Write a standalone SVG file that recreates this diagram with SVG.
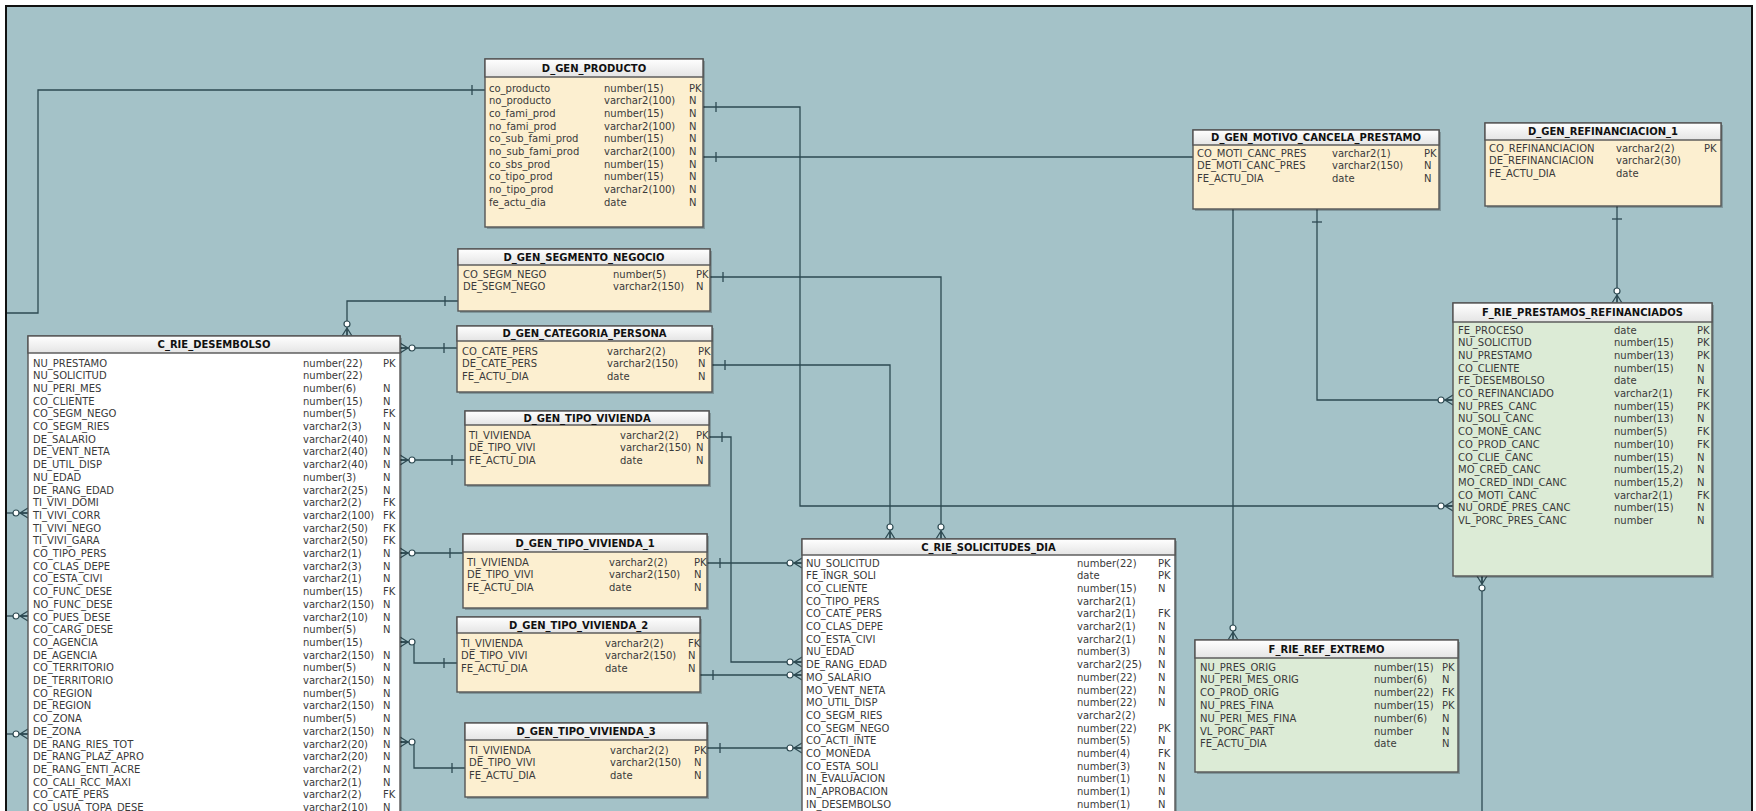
<svg xmlns="http://www.w3.org/2000/svg" width="1756" height="811" viewBox="0 0 1756 811">
<style>
.frame{fill:#a4c2c8;stroke:#111;stroke-width:2}
.sh{fill:#000;fill-opacity:0.22}
.box{stroke:#555;stroke-width:1.4}
.cream{fill:#fcefd0}
.green{fill:#dcebd6}
.white{fill:#ffffff}
.hdr{fill:url(#hg);stroke:#555;stroke-width:1.4}
.t{font-family:'DejaVu Sans',Verdana,sans-serif;font-size:10px;fill:#3a3a3a}
.h{font-family:'DejaVu Sans',Verdana,sans-serif;font-size:10px;font-weight:bold;fill:#111;text-anchor:middle}
.c{fill:none;stroke:#2d4a52;stroke-width:1.3}
.m{fill:none;stroke:#2d4a52;stroke-width:1.3}
.mc{fill:#fff;stroke:#2d4a52;stroke-width:1.2}
</style>
<defs>
<linearGradient id="hg" x1="0" y1="0" x2="0" y2="1">
<stop offset="0" stop-color="#ffffff"/>
<stop offset="1" stop-color="#e4e4e4"/>
</linearGradient>
<marker id="one" markerUnits="userSpaceOnUse" viewBox="-20 -8 24 16" refX="0" refY="0" markerWidth="24" markerHeight="16" orient="auto-start-reverse">
<path class="m" d="M-13,-5 V5"/>
</marker>
<marker id="crow" markerUnits="userSpaceOnUse" viewBox="-20 -8 24 16" refX="0" refY="0" markerWidth="24" markerHeight="16" orient="auto-start-reverse">
<path class="m" d="M-8,0 L0,-5 M-8,0 L0,0 M-8,0 L0,5"/>
<circle class="mc" cx="-12" cy="0" r="3"/>
</marker>
</defs>
<rect x="0" y="0" width="1756" height="811" fill="#ffffff"/>
<rect class="frame" x="6" y="6" width="1746" height="830"/>

<g id="connectors">
<path class="c" d="M485,90 H38 V313 H7" marker-start="url(#one)"/>
<path class="c" d="M458,301 H347 V336" marker-start="url(#one)" marker-end="url(#crow)"/>
<path class="c" d="M457,348 H400" marker-start="url(#one)" marker-end="url(#crow)"/>
<path class="c" d="M465,460 H400" marker-start="url(#one)" marker-end="url(#crow)"/>
<path class="c" d="M463,553 H400" marker-start="url(#one)" marker-end="url(#crow)"/>
<path class="c" d="M457,663 H414 V642 H400" marker-start="url(#one)" marker-end="url(#crow)"/>
<path class="c" d="M465,768 H414 V742 H400" marker-start="url(#one)" marker-end="url(#crow)"/>
<path class="c" d="M7,513 H28" marker-end="url(#crow)"/>
<path class="c" d="M7,616 H28" marker-end="url(#crow)"/>
<path class="c" d="M7,734 H28" marker-end="url(#crow)"/>
<path class="c" d="M710,277 H941 V539" marker-start="url(#one)" marker-end="url(#crow)"/>
<path class="c" d="M712,365 H890 V539" marker-start="url(#one)" marker-end="url(#crow)"/>
<path class="c" d="M703,107 H800 V506 H1453" marker-start="url(#one)" marker-end="url(#crow)"/>
<path class="c" d="M703,157 H1233 V640" marker-start="url(#one)" marker-end="url(#crow)"/>
<path class="c" d="M1317,209 V400 H1453" marker-start="url(#one)" marker-end="url(#crow)"/>
<path class="c" d="M1617,206 V303" marker-start="url(#one)" marker-end="url(#crow)"/>
<path class="c" d="M709,437 H731 V662 H802" marker-start="url(#one)" marker-end="url(#crow)"/>
<path class="c" d="M707,563 H802" marker-start="url(#one)" marker-end="url(#crow)"/>
<path class="c" d="M700,675 H802" marker-start="url(#one)" marker-end="url(#crow)"/>
<path class="c" d="M707,748 H802" marker-start="url(#one)" marker-end="url(#crow)"/>
<path class="c" d="M1482,811 V576" marker-end="url(#crow)"/>
</g>

<g id="c_rie_desembolso">
<rect class="sh" x="30" y="338" width="372" height="500"/>
<rect class="box white" x="28" y="336" width="372" height="500"/>
<rect class="hdr" x="28" y="336" width="372" height="17"/>
<text class="h" x="214" y="348">C_RIE_DESEMBOLSO</text>
<text class="t">
<tspan x="33" y="366.5">NU_PRESTAMO</tspan><tspan x="33" y="379.2">NU_SOLICITUD</tspan><tspan x="33" y="391.9">NU_PERI_MES</tspan><tspan x="33" y="404.6">CO_CLIENTE</tspan><tspan x="33" y="417.3">CO_SEGM_NEGO</tspan><tspan x="33" y="430">CO_SEGM_RIES</tspan><tspan x="33" y="442.7">DE_SALARIO</tspan><tspan x="33" y="455.4">DE_VENT_NETA</tspan><tspan x="33" y="468.1">DE_UTIL_DISP</tspan><tspan x="33" y="480.8">NU_EDAD</tspan><tspan x="33" y="493.5">DE_RANG_EDAD</tspan><tspan x="33" y="506.2">TI_VIVI_DOMI</tspan><tspan x="33" y="518.9">TI_VIVI_CORR</tspan><tspan x="33" y="531.6">TI_VIVI_NEGO</tspan><tspan x="33" y="544.3">TI_VIVI_GARA</tspan><tspan x="33" y="557">CO_TIPO_PERS</tspan><tspan x="33" y="569.7">CO_CLAS_DEPE</tspan><tspan x="33" y="582.4">CO_ESTA_CIVI</tspan><tspan x="33" y="595.1">CO_FUNC_DESE</tspan><tspan x="33" y="607.8">NO_FUNC_DESE</tspan><tspan x="33" y="620.5">CO_PUES_DESE</tspan><tspan x="33" y="633.2">CO_CARG_DESE</tspan><tspan x="33" y="645.9">CO_AGENCIA</tspan><tspan x="33" y="658.6">DE_AGENCIA</tspan><tspan x="33" y="671.3">CO_TERRITORIO</tspan><tspan x="33" y="684">DE_TERRITORIO</tspan><tspan x="33" y="696.7">CO_REGION</tspan><tspan x="33" y="709.4">DE_REGION</tspan><tspan x="33" y="722.1">CO_ZONA</tspan><tspan x="33" y="734.8">DE_ZONA</tspan><tspan x="33" y="747.5">DE_RANG_RIES_TOT</tspan><tspan x="33" y="760.2">DE_RANG_PLAZ_APRO</tspan><tspan x="33" y="772.9">DE_RANG_ENTI_ACRE</tspan><tspan x="33" y="785.6">CO_CALI_RCC_MAXI</tspan><tspan x="33" y="798.3">CO_CATE_PERS</tspan><tspan x="33" y="811">CO_USUA_TOPA_DESE</tspan>
</text>
<text class="t">
<tspan x="303" y="366.5">number(22)</tspan><tspan x="303" y="379.2">number(22)</tspan><tspan x="303" y="391.9">number(6)</tspan><tspan x="303" y="404.6">number(15)</tspan><tspan x="303" y="417.3">number(5)</tspan><tspan x="303" y="430">varchar2(3)</tspan><tspan x="303" y="442.7">varchar2(40)</tspan><tspan x="303" y="455.4">varchar2(40)</tspan><tspan x="303" y="468.1">varchar2(40)</tspan><tspan x="303" y="480.8">number(3)</tspan><tspan x="303" y="493.5">varchar2(25)</tspan><tspan x="303" y="506.2">varchar2(2)</tspan><tspan x="303" y="518.9">varchar2(100)</tspan><tspan x="303" y="531.6">varchar2(50)</tspan><tspan x="303" y="544.3">varchar2(50)</tspan><tspan x="303" y="557">varchar2(1)</tspan><tspan x="303" y="569.7">varchar2(3)</tspan><tspan x="303" y="582.4">varchar2(1)</tspan><tspan x="303" y="595.1">number(15)</tspan><tspan x="303" y="607.8">varchar2(150)</tspan><tspan x="303" y="620.5">varchar2(10)</tspan><tspan x="303" y="633.2">number(5)</tspan><tspan x="303" y="645.9">number(15)</tspan><tspan x="303" y="658.6">varchar2(150)</tspan><tspan x="303" y="671.3">number(5)</tspan><tspan x="303" y="684">varchar2(150)</tspan><tspan x="303" y="696.7">number(5)</tspan><tspan x="303" y="709.4">varchar2(150)</tspan><tspan x="303" y="722.1">number(5)</tspan><tspan x="303" y="734.8">varchar2(150)</tspan><tspan x="303" y="747.5">varchar2(20)</tspan><tspan x="303" y="760.2">varchar2(20)</tspan><tspan x="303" y="772.9">varchar2(2)</tspan><tspan x="303" y="785.6">varchar2(1)</tspan><tspan x="303" y="798.3">varchar2(2)</tspan><tspan x="303" y="811">varchar2(10)</tspan>
</text>
<text class="t">
<tspan x="383" y="366.5">PK</tspan><tspan x="383" y="391.9">N</tspan><tspan x="383" y="404.6">N</tspan><tspan x="383" y="417.3">FK</tspan><tspan x="383" y="430">N</tspan><tspan x="383" y="442.7">N</tspan><tspan x="383" y="455.4">N</tspan><tspan x="383" y="468.1">N</tspan><tspan x="383" y="480.8">N</tspan><tspan x="383" y="493.5">N</tspan><tspan x="383" y="506.2">FK</tspan><tspan x="383" y="518.9">FK</tspan><tspan x="383" y="531.6">FK</tspan><tspan x="383" y="544.3">FK</tspan><tspan x="383" y="557">N</tspan><tspan x="383" y="569.7">N</tspan><tspan x="383" y="582.4">N</tspan><tspan x="383" y="595.1">FK</tspan><tspan x="383" y="607.8">N</tspan><tspan x="383" y="620.5">N</tspan><tspan x="383" y="633.2">N</tspan><tspan x="383" y="658.6">N</tspan><tspan x="383" y="671.3">N</tspan><tspan x="383" y="684">N</tspan><tspan x="383" y="696.7">N</tspan><tspan x="383" y="709.4">N</tspan><tspan x="383" y="722.1">N</tspan><tspan x="383" y="734.8">N</tspan><tspan x="383" y="747.5">N</tspan><tspan x="383" y="760.2">N</tspan><tspan x="383" y="772.9">N</tspan><tspan x="383" y="785.6">N</tspan><tspan x="383" y="798.3">FK</tspan><tspan x="383" y="811">N</tspan>
</text>
</g>

<g id="d_gen_producto">
<rect class="sh" x="487" y="61" width="218" height="168"/>
<rect class="box cream" x="485" y="59" width="218" height="168"/>
<rect class="hdr" x="485" y="59" width="218" height="18"/>
<text class="h" x="594" y="71.5">D_GEN_PRODUCTO</text>
<text class="t">
<tspan x="489" y="91.5">co_producto</tspan><tspan x="489" y="104.2">no_producto</tspan><tspan x="489" y="116.9">co_fami_prod</tspan><tspan x="489" y="129.6">no_fami_prod</tspan><tspan x="489" y="142.3">co_sub_fami_prod</tspan><tspan x="489" y="155">no_sub_fami_prod</tspan><tspan x="489" y="167.7">co_sbs_prod</tspan><tspan x="489" y="180.4">co_tipo_prod</tspan><tspan x="489" y="193.1">no_tipo_prod</tspan><tspan x="489" y="205.8">fe_actu_dia</tspan>
</text>
<text class="t">
<tspan x="604" y="91.5">number(15)</tspan><tspan x="604" y="104.2">varchar2(100)</tspan><tspan x="604" y="116.9">number(15)</tspan><tspan x="604" y="129.6">varchar2(100)</tspan><tspan x="604" y="142.3">number(15)</tspan><tspan x="604" y="155">varchar2(100)</tspan><tspan x="604" y="167.7">number(15)</tspan><tspan x="604" y="180.4">number(15)</tspan><tspan x="604" y="193.1">varchar2(100)</tspan><tspan x="604" y="205.8">date</tspan>
</text>
<text class="t">
<tspan x="689" y="91.5">PK</tspan><tspan x="689" y="104.2">N</tspan><tspan x="689" y="116.9">N</tspan><tspan x="689" y="129.6">N</tspan><tspan x="689" y="142.3">N</tspan><tspan x="689" y="155">N</tspan><tspan x="689" y="167.7">N</tspan><tspan x="689" y="180.4">N</tspan><tspan x="689" y="193.1">N</tspan><tspan x="689" y="205.8">N</tspan>
</text>
</g>

<g id="d_gen_segmento_negocio">
<rect class="sh" x="460" y="251" width="252" height="62"/>
<rect class="box cream" x="458" y="249" width="252" height="62"/>
<rect class="hdr" x="458" y="249" width="252" height="16"/>
<text class="h" x="584" y="260.5">D_GEN_SEGMENTO_NEGOCIO</text>
<text class="t"><tspan x="463" y="277.5">CO_SEGM_NEGO</tspan><tspan x="463" y="290.2">DE_SEGM_NEGO</tspan></text>
<text class="t"><tspan x="613" y="277.5">number(5)</tspan><tspan x="613" y="290.2">varchar2(150)</tspan></text>
<text class="t"><tspan x="696" y="277.5">PK</tspan><tspan x="696" y="290.2">N</tspan></text>
</g>

<g id="d_gen_categoria_persona">
<rect class="sh" x="459" y="328" width="255" height="66"/>
<rect class="box cream" x="457" y="326" width="255" height="66"/>
<rect class="hdr" x="457" y="326" width="255" height="15"/>
<text class="h" x="584.5" y="337">D_GEN_CATEGORIA_PERSONA</text>
<text class="t"><tspan x="462" y="354.5">CO_CATE_PERS</tspan><tspan x="462" y="367.2">DE_CATE_PERS</tspan><tspan x="462" y="379.9">FE_ACTU_DIA</tspan></text>
<text class="t"><tspan x="607" y="354.5">varchar2(2)</tspan><tspan x="607" y="367.2">varchar2(150)</tspan><tspan x="607" y="379.9">date</tspan></text>
<text class="t"><tspan x="698" y="354.5">PK</tspan><tspan x="698" y="367.2">N</tspan><tspan x="698" y="379.9">N</tspan></text>
</g>

<g id="d_gen_tipo_vivienda">
<rect class="sh" x="467" y="413" width="244" height="74"/>
<rect class="box cream" x="465" y="411" width="244" height="74"/>
<rect class="hdr" x="465" y="411" width="244" height="14"/>
<text class="h" x="587" y="421.5">D_GEN_TIPO_VIVIENDA</text>
<text class="t"><tspan x="469" y="438.5">TI_VIVIENDA</tspan><tspan x="469" y="451.2">DE_TIPO_VIVI</tspan><tspan x="469" y="463.9">FE_ACTU_DIA</tspan></text>
<text class="t"><tspan x="620" y="438.5">varchar2(2)</tspan><tspan x="620" y="451.2">varchar2(150)</tspan><tspan x="620" y="463.9">date</tspan></text>
<text class="t"><tspan x="696" y="438.5">PK</tspan><tspan x="696" y="451.2">N</tspan><tspan x="696" y="463.9">N</tspan></text>
</g>

<g id="d_gen_tipo_vivienda_1">
<rect class="sh" x="465" y="536" width="244" height="74"/>
<rect class="box cream" x="463" y="534" width="244" height="74"/>
<rect class="hdr" x="463" y="534" width="244" height="18"/>
<text class="h" x="585" y="546.5">D_GEN_TIPO_VIVIENDA_1</text>
<text class="t"><tspan x="467" y="565.5">TI_VIVIENDA</tspan><tspan x="467" y="578.2">DE_TIPO_VIVI</tspan><tspan x="467" y="590.9">FE_ACTU_DIA</tspan></text>
<text class="t"><tspan x="609" y="565.5">varchar2(2)</tspan><tspan x="609" y="578.2">varchar2(150)</tspan><tspan x="609" y="590.9">date</tspan></text>
<text class="t"><tspan x="694" y="565.5">PK</tspan><tspan x="694" y="578.2">N</tspan><tspan x="694" y="590.9">N</tspan></text>
</g>

<g id="d_gen_tipo_vivienda_2">
<rect class="sh" x="459" y="619" width="243" height="75"/>
<rect class="box cream" x="457" y="617" width="243" height="75"/>
<rect class="hdr" x="457" y="617" width="243" height="16"/>
<text class="h" x="578.5" y="628.5">D_GEN_TIPO_VIVIENDA_2</text>
<text class="t"><tspan x="461" y="646.5">TI_VIVIENDA</tspan><tspan x="461" y="659.2">DE_TIPO_VIVI</tspan><tspan x="461" y="671.9">FE_ACTU_DIA</tspan></text>
<text class="t"><tspan x="605" y="646.5">varchar2(2)</tspan><tspan x="605" y="659.2">varchar2(150)</tspan><tspan x="605" y="671.9">date</tspan></text>
<text class="t"><tspan x="688" y="646.5">FK</tspan><tspan x="688" y="659.2">N</tspan><tspan x="688" y="671.9">N</tspan></text>
</g>

<g id="d_gen_tipo_vivienda_3">
<rect class="sh" x="467" y="725" width="242" height="74"/>
<rect class="box cream" x="465" y="723" width="242" height="74"/>
<rect class="hdr" x="465" y="723" width="242" height="17"/>
<text class="h" x="586" y="735">D_GEN_TIPO_VIVIENDA_3</text>
<text class="t"><tspan x="469" y="753.5">TI_VIVIENDA</tspan><tspan x="469" y="766.2">DE_TIPO_VIVI</tspan><tspan x="469" y="778.9">FE_ACTU_DIA</tspan></text>
<text class="t"><tspan x="610" y="753.5">varchar2(2)</tspan><tspan x="610" y="766.2">varchar2(150)</tspan><tspan x="610" y="778.9">date</tspan></text>
<text class="t"><tspan x="694" y="753.5">PK</tspan><tspan x="694" y="766.2">N</tspan><tspan x="694" y="778.9">N</tspan></text>
</g>

<g id="c_rie_solicitudes_dia">
<rect class="sh" x="804" y="541" width="373" height="300"/>
<rect class="box white" x="802" y="539" width="373" height="300"/>
<rect class="hdr" x="802" y="539" width="373" height="16"/>
<text class="h" x="988.5" y="550.5">C_RIE_SOLICITUDES_DIA</text>
<text class="t">
<tspan x="806" y="566.5">NU_SOLICITUD</tspan><tspan x="806" y="579.2">FE_INGR_SOLI</tspan><tspan x="806" y="591.9">CO_CLIENTE</tspan><tspan x="806" y="604.6">CO_TIPO_PERS</tspan><tspan x="806" y="617.3">CO_CATE_PERS</tspan><tspan x="806" y="630">CO_CLAS_DEPE</tspan><tspan x="806" y="642.7">CO_ESTA_CIVI</tspan><tspan x="806" y="655.4">NU_EDAD</tspan><tspan x="806" y="668.1">DE_RANG_EDAD</tspan><tspan x="806" y="680.8">MO_SALARIO</tspan><tspan x="806" y="693.5">MO_VENT_NETA</tspan><tspan x="806" y="706.2">MO_UTIL_DISP</tspan><tspan x="806" y="718.9">CO_SEGM_RIES</tspan><tspan x="806" y="731.6">CO_SEGM_NEGO</tspan><tspan x="806" y="744.3">CO_ACTI_INTE</tspan><tspan x="806" y="757">CO_MONEDA</tspan><tspan x="806" y="769.7">CO_ESTA_SOLI</tspan><tspan x="806" y="782.4">IN_EVALUACION</tspan><tspan x="806" y="795.1">IN_APROBACION</tspan><tspan x="806" y="807.8">IN_DESEMBOLSO</tspan>
</text>
<text class="t">
<tspan x="1077" y="566.5">number(22)</tspan><tspan x="1077" y="579.2">date</tspan><tspan x="1077" y="591.9">number(15)</tspan><tspan x="1077" y="604.6">varchar2(1)</tspan><tspan x="1077" y="617.3">varchar2(1)</tspan><tspan x="1077" y="630">varchar2(1)</tspan><tspan x="1077" y="642.7">varchar2(1)</tspan><tspan x="1077" y="655.4">number(3)</tspan><tspan x="1077" y="668.1">varchar2(25)</tspan><tspan x="1077" y="680.8">number(22)</tspan><tspan x="1077" y="693.5">number(22)</tspan><tspan x="1077" y="706.2">number(22)</tspan><tspan x="1077" y="718.9">varchar2(2)</tspan><tspan x="1077" y="731.6">number(22)</tspan><tspan x="1077" y="744.3">number(5)</tspan><tspan x="1077" y="757">number(4)</tspan><tspan x="1077" y="769.7">number(3)</tspan><tspan x="1077" y="782.4">number(1)</tspan><tspan x="1077" y="795.1">number(1)</tspan><tspan x="1077" y="807.8">number(1)</tspan>
</text>
<text class="t">
<tspan x="1158" y="566.5">PK</tspan><tspan x="1158" y="579.2">PK</tspan><tspan x="1158" y="591.9">N</tspan><tspan x="1158" y="617.3">FK</tspan><tspan x="1158" y="630">N</tspan><tspan x="1158" y="642.7">N</tspan><tspan x="1158" y="655.4">N</tspan><tspan x="1158" y="668.1">N</tspan><tspan x="1158" y="680.8">N</tspan><tspan x="1158" y="693.5">N</tspan><tspan x="1158" y="706.2">N</tspan><tspan x="1158" y="731.6">PK</tspan><tspan x="1158" y="744.3">N</tspan><tspan x="1158" y="757">FK</tspan><tspan x="1158" y="769.7">N</tspan><tspan x="1158" y="782.4">N</tspan><tspan x="1158" y="795.1">N</tspan><tspan x="1158" y="807.8">N</tspan>
</text>
</g>

<g id="d_gen_motivo_cancela_prestamo">
<rect class="sh" x="1195" y="132" width="246" height="79"/>
<rect class="box cream" x="1193" y="130" width="246" height="79"/>
<rect class="hdr" x="1193" y="130" width="246" height="15"/>
<text class="h" x="1316" y="141">D_GEN_MOTIVO_CANCELA_PRESTAMO</text>
<text class="t"><tspan x="1197" y="156.5">CO_MOTI_CANC_PRES</tspan><tspan x="1197" y="169.2">DE_MOTI_CANC_PRES</tspan><tspan x="1197" y="181.9">FE_ACTU_DIA</tspan></text>
<text class="t"><tspan x="1332" y="156.5">varchar2(1)</tspan><tspan x="1332" y="169.2">varchar2(150)</tspan><tspan x="1332" y="181.9">date</tspan></text>
<text class="t"><tspan x="1424" y="156.5">PK</tspan><tspan x="1424" y="169.2">N</tspan><tspan x="1424" y="181.9">N</tspan></text>
</g>

<g id="d_gen_refinanciacion_1">
<rect class="sh" x="1487" y="125" width="236" height="83"/>
<rect class="box cream" x="1485" y="123" width="236" height="83"/>
<rect class="hdr" x="1485" y="123" width="236" height="17"/>
<text class="h" x="1603" y="135">D_GEN_REFINANCIACION_1</text>
<text class="t"><tspan x="1489" y="151.5">CO_REFINANCIACION</tspan><tspan x="1489" y="164.2">DE_REFINANCIACION</tspan><tspan x="1489" y="176.9">FE_ACTU_DIA</tspan></text>
<text class="t"><tspan x="1616" y="151.5">varchar2(2)</tspan><tspan x="1616" y="164.2">varchar2(30)</tspan><tspan x="1616" y="176.9">date</tspan></text>
<text class="t"><tspan x="1704" y="151.5">PK</tspan></text>
</g>

<g id="f_rie_prestamos_refinanciados">
<rect class="sh" x="1455" y="305" width="259" height="273"/>
<rect class="box green" x="1453" y="303" width="259" height="273"/>
<rect class="hdr" x="1453" y="303" width="259" height="19"/>
<text class="h" x="1582.5" y="316">F_RIE_PRESTAMOS_REFINANCIADOS</text>
<text class="t">
<tspan x="1458" y="333.5">FE_PROCESO</tspan><tspan x="1458" y="346.2">NU_SOLICITUD</tspan><tspan x="1458" y="358.9">NU_PRESTAMO</tspan><tspan x="1458" y="371.6">CO_CLIENTE</tspan><tspan x="1458" y="384.3">FE_DESEMBOLSO</tspan><tspan x="1458" y="397">CO_REFINANCIADO</tspan><tspan x="1458" y="409.7">NU_PRES_CANC</tspan><tspan x="1458" y="422.4">NU_SOLI_CANC</tspan><tspan x="1458" y="435.1">CO_MONE_CANC</tspan><tspan x="1458" y="447.8">CO_PROD_CANC</tspan><tspan x="1458" y="460.5">CO_CLIE_CANC</tspan><tspan x="1458" y="473.2">MO_CRED_CANC</tspan><tspan x="1458" y="485.9">MO_CRED_INDI_CANC</tspan><tspan x="1458" y="498.6">CO_MOTI_CANC</tspan><tspan x="1458" y="511.3">NU_ORDE_PRES_CANC</tspan><tspan x="1458" y="524">VL_PORC_PRES_CANC</tspan>
</text>
<text class="t">
<tspan x="1614" y="333.5">date</tspan><tspan x="1614" y="346.2">number(15)</tspan><tspan x="1614" y="358.9">number(13)</tspan><tspan x="1614" y="371.6">number(15)</tspan><tspan x="1614" y="384.3">date</tspan><tspan x="1614" y="397">varchar2(1)</tspan><tspan x="1614" y="409.7">number(15)</tspan><tspan x="1614" y="422.4">number(13)</tspan><tspan x="1614" y="435.1">number(5)</tspan><tspan x="1614" y="447.8">number(10)</tspan><tspan x="1614" y="460.5">number(15)</tspan><tspan x="1614" y="473.2">number(15,2)</tspan><tspan x="1614" y="485.9">number(15,2)</tspan><tspan x="1614" y="498.6">varchar2(1)</tspan><tspan x="1614" y="511.3">number(15)</tspan><tspan x="1614" y="524">number</tspan>
</text>
<text class="t">
<tspan x="1697" y="333.5">PK</tspan><tspan x="1697" y="346.2">PK</tspan><tspan x="1697" y="358.9">PK</tspan><tspan x="1697" y="371.6">N</tspan><tspan x="1697" y="384.3">N</tspan><tspan x="1697" y="397">FK</tspan><tspan x="1697" y="409.7">PK</tspan><tspan x="1697" y="422.4">N</tspan><tspan x="1697" y="435.1">FK</tspan><tspan x="1697" y="447.8">FK</tspan><tspan x="1697" y="460.5">N</tspan><tspan x="1697" y="473.2">N</tspan><tspan x="1697" y="485.9">N</tspan><tspan x="1697" y="498.6">FK</tspan><tspan x="1697" y="511.3">N</tspan><tspan x="1697" y="524">N</tspan>
</text>
</g>

<g id="f_rie_ref_extremo">
<rect class="sh" x="1197" y="642" width="263" height="132"/>
<rect class="box green" x="1195" y="640" width="263" height="132"/>
<rect class="hdr" x="1195" y="640" width="263" height="18"/>
<text class="h" x="1326.5" y="652.5">F_RIE_REF_EXTREMO</text>
<text class="t"><tspan x="1200" y="670.5">NU_PRES_ORIG</tspan><tspan x="1200" y="683.3">NU_PERI_MES_ORIG</tspan><tspan x="1200" y="696.1">CO_PROD_ORIG</tspan><tspan x="1200" y="708.9">NU_PRES_FINA</tspan><tspan x="1200" y="721.7">NU_PERI_MES_FINA</tspan><tspan x="1200" y="734.5">VL_PORC_PART</tspan><tspan x="1200" y="747.3">FE_ACTU_DIA</tspan></text>
<text class="t"><tspan x="1374" y="670.5">number(15)</tspan><tspan x="1374" y="683.3">number(6)</tspan><tspan x="1374" y="696.1">number(22)</tspan><tspan x="1374" y="708.9">number(15)</tspan><tspan x="1374" y="721.7">number(6)</tspan><tspan x="1374" y="734.5">number</tspan><tspan x="1374" y="747.3">date</tspan></text>
<text class="t"><tspan x="1442" y="670.5">PK</tspan><tspan x="1442" y="683.3">N</tspan><tspan x="1442" y="696.1">FK</tspan><tspan x="1442" y="708.9">PK</tspan><tspan x="1442" y="721.7">N</tspan><tspan x="1442" y="734.5">N</tspan><tspan x="1442" y="747.3">N</tspan></text>
</g>
</svg>
